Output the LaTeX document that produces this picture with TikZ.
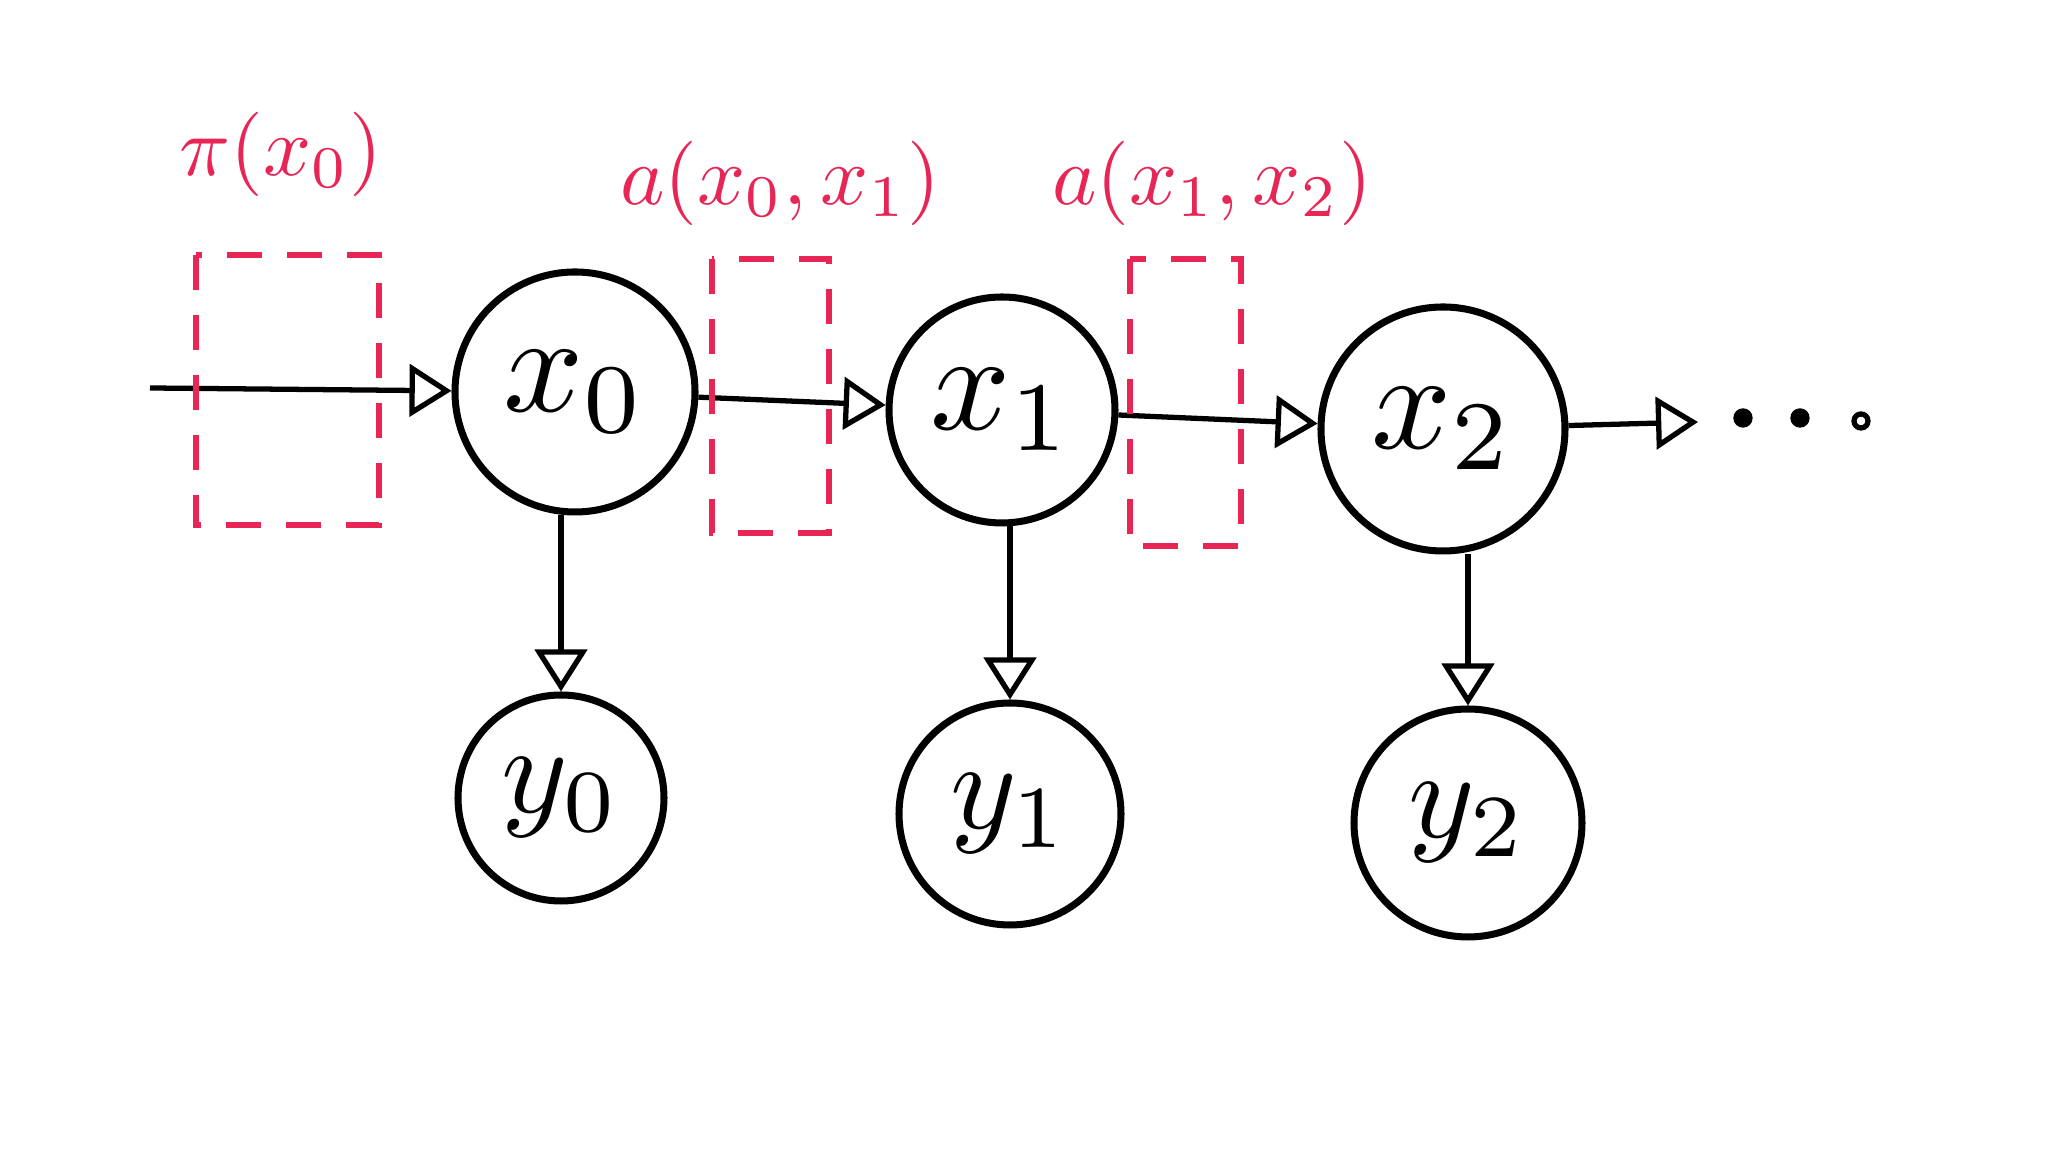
\documentclass[tikz,border=0pt]{standalone}
\usepackage{amsmath}
\usepackage{graphicx}
\usepackage{tikz}
\usetikzlibrary{arrows.meta}

\definecolor{handred}{RGB}{232,38,86}
\newcommand{\statetxt}[1]{\scalebox{4}{$#1$}}
\newcommand{\obstxt}[1]{\scalebox{3.6}{$#1$}}
\newcommand{\tagtxt}[1]{\scalebox{2.4}{$#1$}}

\begin{document}
\begin{tikzpicture}[>={Triangle[open,length=0.42cm,width=0.52cm]},
    state/.style={circle, draw, line width=2pt, inner sep=0pt},
    link/.style={->, line width=1.5pt},
    box/.style={draw=handred, line width=1.5pt, dash pattern=on 0.35cm off 0.25cm},
    tag/.style={text=handred}]
    \useasboundingbox (0,0) rectangle (20.48,11.52);

    % hidden chain
    \node[state, minimum size=2.4cm]  (x0) at (5.75,7.60)  {\statetxt{x_0}};
    \node[state, minimum size=2.26cm] (x1) at (10.02,7.42) {\statetxt{x_1}};
    \node[state, minimum size=2.44cm] (x2) at (14.43,7.23) {\statetxt{x_2}};

    % observations
    \node[state, minimum size=2.06cm] (y0) at (5.61,3.54)  {\obstxt{y_0}};
    \node[state, minimum size=2.22cm] (y1) at (10.10,3.38) {\obstxt{y_1}};
    \node[state, minimum size=2.28cm] (y2) at (14.68,3.29) {\obstxt{y_2}};

    \coordinate (start) at (1.50,7.64);
    \coordinate (tail) at (16.98,7.30);

    \draw[link] (start) -- (x0);
    \draw[link] (x0) -- (x1);
    \draw[link] (x1) -- (x2);
    \draw[link] (x2) -- (tail);
    \foreach \i in {0,1,2}
        \draw[link] (y\i |- x\i.south) -- (y\i);

    \foreach \x/\y/\f in {17.43/7.34/black, 18.00/7.34/black, 18.61/7.31/white}
        \filldraw[line width=1.5pt, fill=\f] (\x,\y) circle (0.07);

    % parameters
    \draw[box] (1.96,8.97) rectangle (3.79,6.27);
    \draw[box] (7.12,8.93) rectangle (8.29,6.19);
    \draw[box] (11.30,8.93) rectangle (12.41,6.06);

    \node[tag] (pi) at (2.81,9.98) {\tagtxt{\pi(x_0)}};
    \node[tag] (a01) at (7.80,9.69) {\tagtxt{a(x_0,x_1)}};
    \node[tag] (a12) at (12.12,9.69) {\tagtxt{a(x_1,x_2)}};

\end{tikzpicture}
\end{document}
